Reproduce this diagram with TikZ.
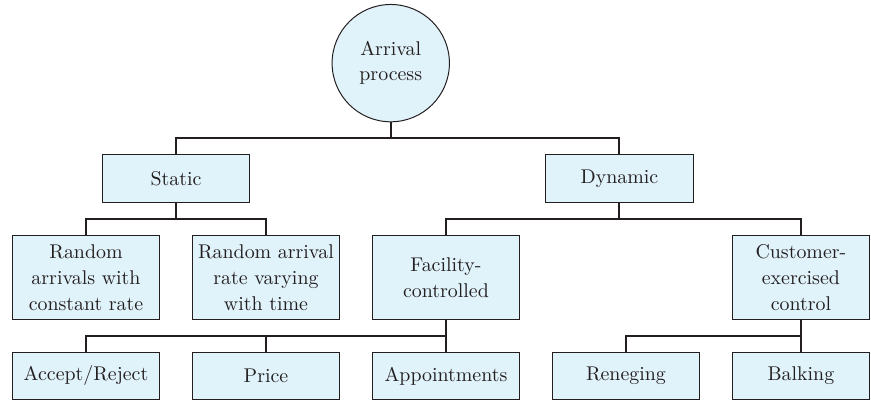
\documentclass[tikz,border=0pt]{standalone}
\usetikzlibrary{positioning, calc}
\definecolor{boxfill}{RGB}{224,242,250}
\definecolor{ink}{RGB}{35,31,32}

\begin{document}
\begin{tikzpicture}[
  node distance=16pt,
  box/.style={rectangle, draw=ink, line width=0.5pt, fill=boxfill, text=ink, align=center,
    minimum width=74pt, minimum height=24pt, inner sep=2pt, font=\fontsize{10}{13}\selectfont},
  tall/.style={box, minimum height=42.5pt},
  leaf/.style={box, minimum height=23.5pt},
  narrow/.style={minimum width=69pt},
  root/.style={circle, draw=ink, line width=0.5pt, fill=boxfill, text=ink, align=center,
    minimum size=59pt, inner sep=0pt, font=\fontsize{10}{12.5}\selectfont},
  link/.style={draw=ink, line width=1pt, to path={(\tikztostart) -- ++(0,-8pt) -| (\tikztotarget)}}
]
% bottom row
\node[leaf] (accept) {Accept/Reject};
\node[leaf, right=of accept] (price) {Price};
\node[leaf, right=of price] (appoint) {Appointments};
\node[leaf, right=of appoint] (reneging) {Reneging};
\node[leaf, narrow, right=of reneging] (balking) {Balking};

% third row
\node[tall, above=of accept] (constant) {Random\\arrivals with\\constant rate};
\node[tall, above=of price] (varying) {Random arrival\\rate varying\\with time};
\node[tall, above=of appoint] (facility) {Facility-\\controlled};
\node[tall, narrow, above=of balking] (customer) {Customer-\\exercised\\control};

% second row and root
\coordinate (sm) at ($(constant.north)!0.5!(varying.north)$);
\coordinate (dm) at ($(facility.north)!0.5!(customer.north)$);
\node[box, above=of sm] (static) {Static};
\node[box, above=of dm, xshift=-2pt] (dynamic) {Dynamic};
\coordinate (rm) at ($(static.north)!0.5!(dynamic.north)$);
\node[root, above=of rm, xshift=-3.5pt] (arrival) {Arrival\\process};

% connectors
\draw[link] (arrival.south) to (static.north);
\draw[link] (arrival.south) to (dynamic.north);
\draw[link] (static.south) to (constant.north);
\draw[link] (static.south) to (varying.north);
\draw[link] (dynamic.south) to (facility.north);
\draw[link] (dynamic.south) to (customer.north);
\draw[link] (facility.south) to (accept.north);
\draw[link] (facility.south) to (price.north);
\draw[link] (facility.south) to (appoint.north);
\draw[link] (customer.south) to (reneging.north);
\draw[link] (customer.south) to (balking.north);

\useasboundingbox ($(accept.south west)+(-6pt,-0.5pt)$) rectangle ($(balking.east |- arrival.north)+(0.5pt,2pt)$);
\end{tikzpicture}
\end{document}
